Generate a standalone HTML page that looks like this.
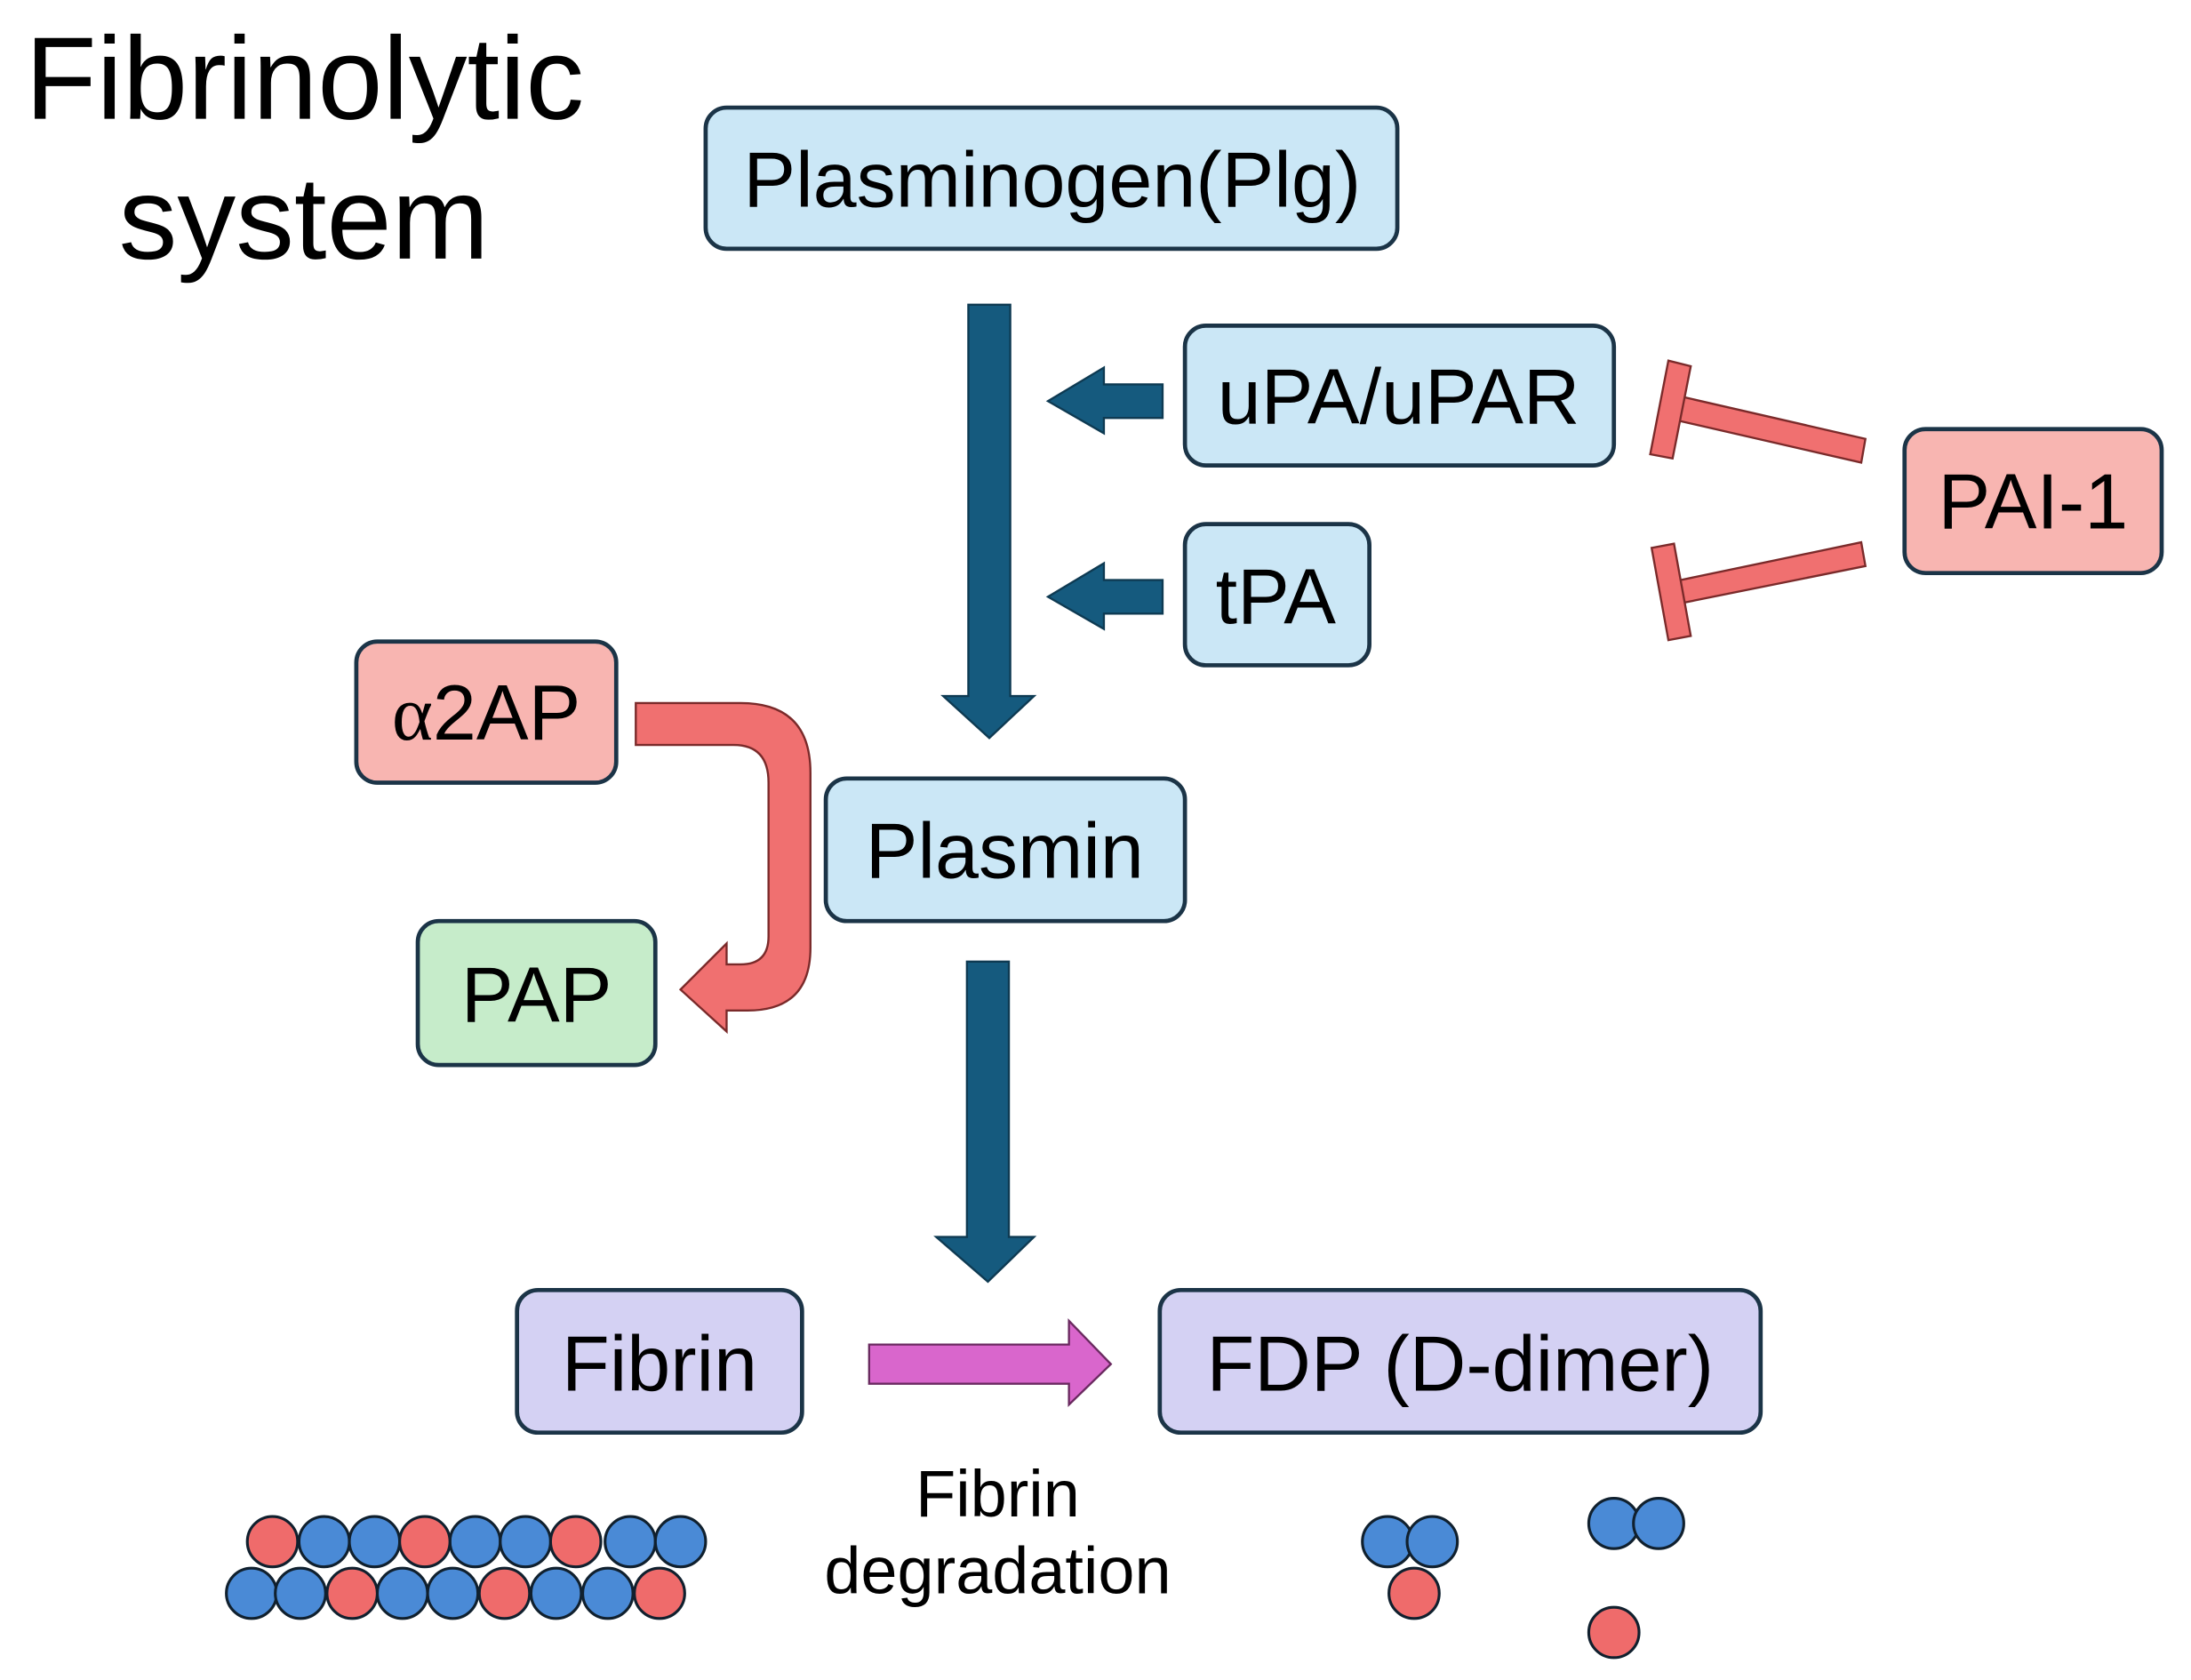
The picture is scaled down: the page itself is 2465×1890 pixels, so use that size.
<!DOCTYPE html>
<html><head><meta charset="utf-8"><style>html,body{margin:0;padding:0;background:#fff}svg{display:block}</style></head>
<body>
<svg width="2465" height="1890" viewBox="0 0 1568 1202" preserveAspectRatio="none" xmlns="http://www.w3.org/2000/svg" font-family="Liberation Sans, sans-serif">
<text x="18" y="85" font-size="84" fill="#000" textLength="400" lengthAdjust="spacingAndGlyphs">Fibrinolytic</text>
<text x="85" y="185" font-size="84" fill="#000" textLength="265" lengthAdjust="spacingAndGlyphs">system</text>
<g stroke="#1b3447" stroke-width="3">
<rect x="505" y="77" width="495" height="101" rx="15" fill="#cbe7f6"/>
<rect x="848" y="233" width="307" height="100" rx="15" fill="#cbe7f6"/>
<rect x="848" y="375" width="132" height="101" rx="15" fill="#cbe7f6"/>
<rect x="591" y="557" width="257" height="102" rx="15" fill="#cbe7f6"/>
<rect x="1363" y="307" width="184" height="103" rx="15" fill="#f8b5b1"/>
<rect x="255" y="459" width="186" height="101" rx="15" fill="#f8b5b1"/>
<rect x="299" y="659" width="170" height="103" rx="15" fill="#c6ecca"/>
<rect x="370" y="923" width="204" height="102" rx="15" fill="#d4d1f3"/>
<rect x="830" y="923" width="430" height="102" rx="15" fill="#d4d1f3"/>
</g>
<g font-size="56" fill="#000" text-anchor="middle">
<text x="753" y="148">Plasminogen(Plg)</text>
<text x="1001" y="303">uPA/uPAR</text>
<text x="913" y="446">tPA</text>
<text x="719" y="628">Plasmin</text>
<text x="1455" y="378">PAI-1</text>
<text x="348" y="529"><tspan font-family="Liberation Serif, serif">α</tspan>2AP</text>
<text x="384" y="731">PAP</text>
<text x="472" y="995">Fibrin</text>
<text x="1045" y="995">FDP (D-dimer)</text>
</g>
<g font-size="47" fill="#000" text-anchor="middle">
<text x="714" y="1085">Fibrin</text>
<text x="714" y="1140">degradation</text>
</g>
<g fill="#155a7e" stroke="#0e3a52" stroke-width="1.5">
<polygon points="693,218 723,218 723,498 740,498 708,528 675,498 693,498"/>
<polygon points="692,688 722,688 722,885 740,885 707,917 670,885 692,885"/>
<polygon points="832,275 790,275 790,263 750,287 790,310 790,299 832,299"/>
<polygon points="832,415 790,415 790,403 750,427 790,450 790,439 832,439"/>
</g>
<polygon points="622,962 765,962 765,945 795,976 765,1005 765,990 622,990" fill="#d966cc" stroke="#6a2a60" stroke-width="1.5"/>
<g fill="#f07070" stroke="#7a2a2a" stroke-width="1.5">
<polygon points="1335,314 1332,331 1197,300 1200,283"/>
<polygon points="1181,325 1197,328 1210,262 1194,258"/>
<polygon points="1332,388 1335,405 1201,432 1198,416"/>
<polygon points="1182,392 1198,389 1210,455 1194,458"/>
<path d="M455,503 L530,503 Q580,503 580,553 L580,678 Q580,723 535,723 L520,723 L520,738 L487,708 L520,675 L520,690 L530,690 Q550,690 550,670 L550,560 Q550,533 525,533 L455,533 Z"/>
</g>
<g stroke="#10202e" stroke-width="2">
<g fill="#4a8ad6">
<circle cx="232" cy="1103" r="18"/><circle cx="268" cy="1103" r="18"/><circle cx="340" cy="1103" r="18"/><circle cx="376" cy="1103" r="18"/><circle cx="451" cy="1103" r="18"/><circle cx="487" cy="1103" r="18"/>
</g>
<g fill="#ef6b6b"><circle cx="195" cy="1103" r="18"/><circle cx="304" cy="1103" r="18"/><circle cx="412" cy="1103" r="18"/></g>
<g fill="#4a8ad6">
<circle cx="180" cy="1140" r="18"/><circle cx="215" cy="1140" r="18"/><circle cx="288" cy="1140" r="18"/><circle cx="324" cy="1140" r="18"/><circle cx="398" cy="1140" r="18"/><circle cx="435" cy="1140" r="18"/>
</g>
<g fill="#ef6b6b"><circle cx="252" cy="1140" r="18"/><circle cx="361" cy="1140" r="18"/><circle cx="472" cy="1140" r="18"/></g>
<circle cx="1012" cy="1140" r="18" fill="#ef6b6b"/>
<circle cx="993" cy="1103" r="18" fill="#4a8ad6"/><circle cx="1025" cy="1103" r="18" fill="#4a8ad6"/>
<circle cx="1155" cy="1090" r="18" fill="#4a8ad6"/><circle cx="1187" cy="1090" r="18" fill="#4a8ad6"/>
<circle cx="1155" cy="1168" r="18" fill="#ef6b6b"/>
</g>
</svg>
</body></html>
